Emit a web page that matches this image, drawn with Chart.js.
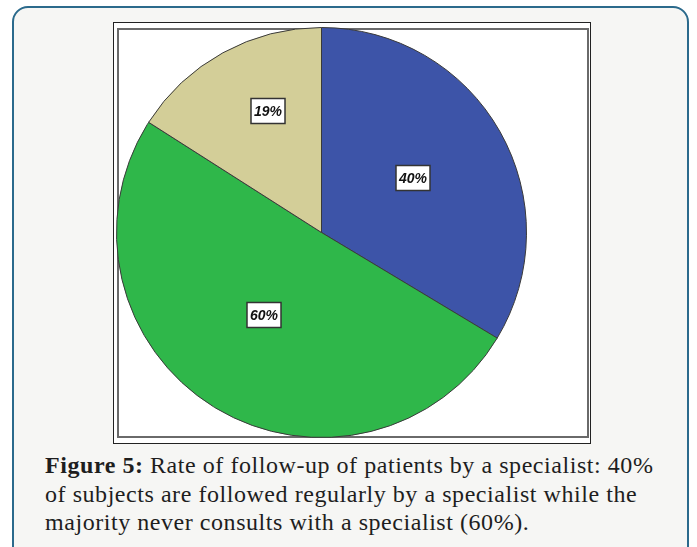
<!DOCTYPE html>
<meta charset="UTF-8" />
<html>
<head>
<script src="https://cdn.jsdelivr.net/npm/chart.js@4.4.1/dist/chart.umd.min.js"></script>
<style>
  body { margin:0; width:697px; height:547px; overflow:hidden; background:#fff; position:relative; }
  #frame { position:absolute; left:12px; top:6px; width:677px; height:560px; border:2px solid #2b6a8c;
           border-radius:16px; background:#f6f6f4; box-sizing:border-box; }
  #outerBox { position:absolute; left:113px; top:22px; width:478px; height:422px; border:1px solid #222;
              background:#fff; box-sizing:border-box; }
  #innerBox { position:absolute; left:117px; top:28px; width:472px; height:410px; border:2px solid #6a6a6a;
              box-sizing:border-box; }
  #chartWrap { position:absolute; left:116px; top:27px; width:411px; height:411px; }
  #caption { position:absolute; left:45px; top:451px; font-family:"Liberation Serif", serif; font-size:24px;
             letter-spacing:0.55px; line-height:28.5px; color:#1e1e1e; white-space:nowrap; }
</style>
</head>
<body>
<div id="frame"></div>
<div id="outerBox"></div>
<div id="innerBox"></div>
<div id="chartWrap"><canvas id="myChart" width="411" height="411"></canvas></div>
<div id="caption"><b>Figure 5:</b> Rate of follow-up of patients by a specialist: 40%<br>of subjects are followed regularly by a specialist while the<br>majority never consults with a specialist (60%).</div>
<script>
// data (slices drawn in proportion to the raw numbers)
const labels = ["Followed regularly", "Never consults", "Occasionally"];
const values = [40, 60, 19];
const valueLabels = ["40%", "60%", "19%"];
const colors = ["#3d54a8", "#2fb74a", "#d3ce98"];

// label placement: fraction of radius and angle nudge (degrees)
const labelRadius = [0.52, 0.49, 0.645];
const labelTurn = [-1.5, 3, 5];

const boxLabels = {
  id: "boxLabels",
  afterDatasetsDraw(chart) {
    const ctx = chart.ctx;
    const meta = chart.getDatasetMeta(0);
    ctx.save();
    ctx.font = "italic bold 14px 'Liberation Sans', Arial, sans-serif";
    ctx.textAlign = "center";
    ctx.textBaseline = "middle";
    meta.data.forEach(function(arc, i) {
      const p = arc.getProps(["x", "y", "startAngle", "endAngle", "outerRadius"], true);
      const mid = (p.startAngle + p.endAngle) / 2 + labelTurn[i] * Math.PI / 180;
      const r = p.outerRadius * labelRadius[i];
      const cx = Math.round(p.x + Math.cos(mid) * r);
      const cy = Math.round(p.y + Math.sin(mid) * r);
      const w = 34, h = 25;
      ctx.fillStyle = "#fff";
      ctx.fillRect(cx - w / 2, cy - h / 2, w, h);
      ctx.lineWidth = 1.5;
      ctx.strokeStyle = "#333";
      ctx.strokeRect(cx - w / 2, cy - h / 2, w, h);
      ctx.fillStyle = "#111";
      ctx.fillText(valueLabels[i], cx, cy + 1);
    });
    ctx.restore();
  }
};

const config = {
  type: "pie",
  data: {
    labels: labels,
    datasets: [{
      data: values,
      backgroundColor: colors,
      borderColor: "#3a3a3a",
      borderWidth: 1
    }]
  },
  options: {
    responsive: false,
    animation: false,
    events: [],
    layout: { padding: 0 },
    plugins: {
      legend: { display: false },
      tooltip: { enabled: false }
    }
  },
  plugins: [boxLabels]
};

var myChart = new Chart(document.getElementById("myChart"), config);
</script>
</body>
</html>
